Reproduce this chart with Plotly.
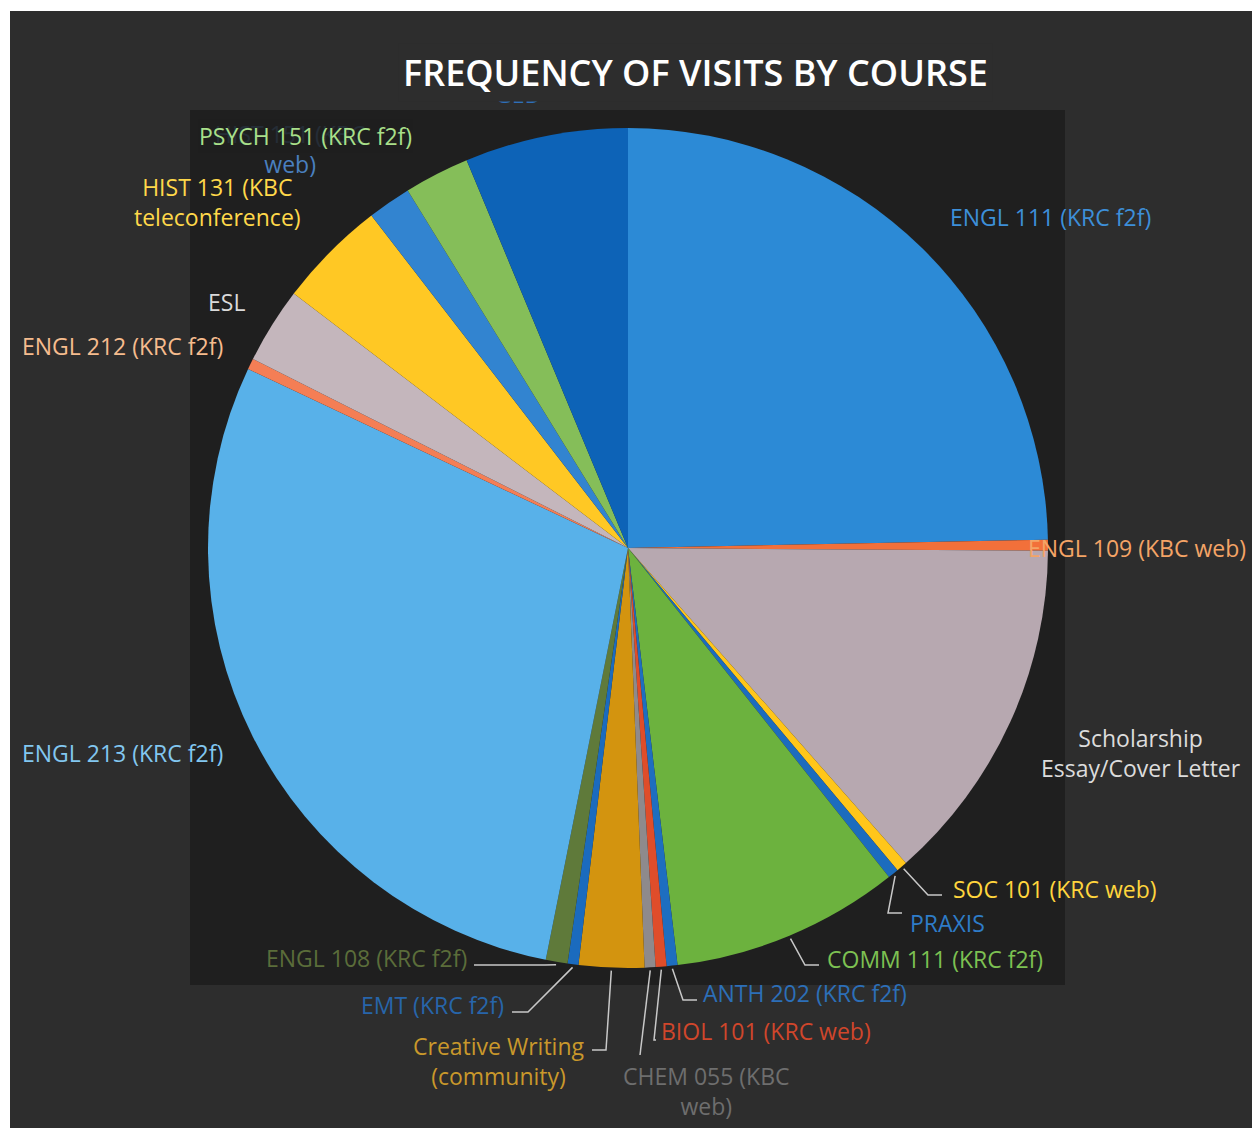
import math
import plotly.graph_objects as go

W, H = 1252, 1133

# ---- data (clockwise from 12 o'clock) ----
courses = [
    "ENGL 111 (KRC f2f)", "ENGL 109 (KBC web)", "Scholarship Essay/Cover Letter",
    "SOC 101 (KRC web)", "PRAXIS", "COMM 111 (KRC f2f)", "ANTH 202 (KRC f2f)",
    "BIOL 101 (KRC web)", "CHEM 055 (KBC web)", "Creative Writing (community)",
    "EMT (KRC f2f)", "ENGL 108 (KRC f2f)", "ENGL 213 (KRC f2f)", "ENGL 212 (KRC f2f)",
    "ESL", "HIST 131 (KBC teleconference)", "HIST 151 (KBC web)", "PSYCH 151 (KRC f2f)", "GED",
]
visits = [59, 1, 32, 1, 1, 21, 1, 1, 1, 6, 1, 2, 69, 1, 7, 10, 4, 6, 15]

slice_colors = [
    "#2C8AD6", "#F2703A", "#B7A8B0", "#FFC61A", "#1C6CBE", "#6CB23E", "#1E6EC0",
    "#DF4D2A", "#8E8A8C", "#D3940F", "#1B6BBE", "#5F7A3A", "#58B1E9", "#F47E55",
    "#C4B6BC", "#FFC824", "#3284D0", "#85BE59", "#0D63B7",
]
label_texts = [
    "ENGL 111 (KRC f2f)", "ENGL 109 (KBC web)", "Scholarship<br>Essay/Cover Letter",
    "SOC 101 (KRC web)", "PRAXIS", "COMM 111 (KRC f2f)", "ANTH 202 (KRC f2f)",
    "BIOL 101 (KRC web)", "CHEM 055 (KBC<br>web)", "Creative Writing<br>(community)",
    "EMT (KRC f2f)", "ENGL 108 (KRC f2f)", "ENGL 213 (KRC f2f)", "ENGL 212 (KRC f2f)",
    "ESL", "HIST 131 (KBC<br>teleconference)", "HIST 151 (KBC<br>web)", "PSYCH 151 (KRC f2f)", "GED",
]
label_colors = [
    "#3D8FD9", "#F4A466", "#DCDCDC", "#FFD53D", "#2E7CC8", "#7DC152", "#2C6FB8",
    "#D0462B", "#6E6E6E", "#C9982B", "#2765AA", "#5B6D3A", "#82C7F0", "#F6BC8E",
    "#DADADA", "#FFD84A", "#4A80C0", "#A9E08A", "#2F6FB8",
]
# label centre positions (px) and anchor
label_pos = [
    (1050, 217, "center"), (1248, 548, "right"), (1141, 753, "center"),
    (1055, 889, "center"), (947, 923, "center"), (935, 959, "center"),
    (805, 993, "center"), (766, 1031, "center"), (706, 1091, "center"),
    (499, 1061, "center"), (432, 1005, "center"), (366, 958, "center"),
    (122, 753, "center"), (122, 346, "center"), (226, 302, "center"), (217, 202, "center"),
    (290, 149, "center"), (305, 136, "center"), (518, 94, "center"),
]
# leader-line elbow and end points (px)
leader = [
    None, None, None,
    ((928, 895), (942, 895)), ((888, 913), (902, 913)), ((805, 965), (819, 965)),
    ((683, 1000), (697, 1000)), ((654, 1040), (656, 1040)), ((640, 1055), (640, 1055)),
    ((606, 1050), (592, 1050)), ((528, 1012), (512, 1012)), ((545, 965), (474, 965)),
    None, None, None, None, None, None, None,
]

# pie geometry (px)
CX, CY, R = 628, 548, 420


def px(x):
    return x / W


def py(y):
    return 1 - y / H


fig = go.Figure()
fig.add_trace(go.Pie(
    labels=courses, values=visits, sort=False, direction="clockwise", rotation=0,
    marker=dict(colors=slice_colors, line=dict(width=0)),
    textinfo="none", hoverinfo="label+value", showlegend=False,
    domain=dict(x=[px(CX - R), px(CX + R)], y=[py(CY + R), py(CY - R)]),
))

shapes = [
    dict(type="rect", xref="paper", yref="paper", x0=px(10), x1=1, y0=py(1128), y1=py(11),
         fillcolor="#2D2D2D", line=dict(width=0), layer="below"),
    dict(type="rect", xref="paper", yref="paper", x0=px(190), x1=px(1065), y0=py(985), y1=py(110),
         fillcolor="#1F1F1F", line=dict(width=0), layer="below"),
]

FONT = "Open Sans"
total = sum(visits)
cum = 0
annotations = []
for i, v in enumerate(visits):
    mid = (cum + v / 2) / total * 2 * math.pi
    cum += v
    ex = CX + (R + 3) * math.sin(mid)
    ey = CY - (R + 3) * math.cos(mid)
    if leader[i] is not None:
        (bx, by), (tx, ty) = leader[i]
        path = f"M {px(ex)},{py(ey)} L {px(bx)},{py(by)} L {px(tx)},{py(ty)}"
        shapes.append(dict(type="path", xref="paper", yref="paper", path=path,
                           line=dict(color="#C8C8C8", width=1.5)))
    lx, ly, anc = label_pos[i]
    extra = {}
    if courses[i].startswith("PSYCH"):
        extra = dict(bgcolor="rgba(31,31,31,0.85)", borderpad=0)
    annotations.append(dict(x=px(lx), y=py(ly), xref="paper", yref="paper",
                            text=label_texts[i], showarrow=False, xanchor=anc, yanchor="middle",
                            font=dict(color=label_colors[i], size=23, family=FONT),
                            align="center", **extra))

annotations.append(dict(x=px(695), y=py(72), xref="paper", yref="paper",
                        text="FREQUENCY OF VISITS BY COURSE", showarrow=False,
                        xanchor="center", yanchor="middle",
                        font=dict(color="#FFFFFF", size=36, family=FONT, weight=600),
                        bgcolor="#2D2D2D", borderpad=4))

fig.update_layout(
    width=W, height=H, margin=dict(l=0, r=0, t=0, b=0),
    paper_bgcolor="#FFFFFF", plot_bgcolor="#2D2D2D",
    shapes=shapes, annotations=annotations,
)
fig.write_html("out.html", config={"displayModeBar": False},
               post_script="document.body.style.margin='0';document.body.style.overflow='hidden';")
